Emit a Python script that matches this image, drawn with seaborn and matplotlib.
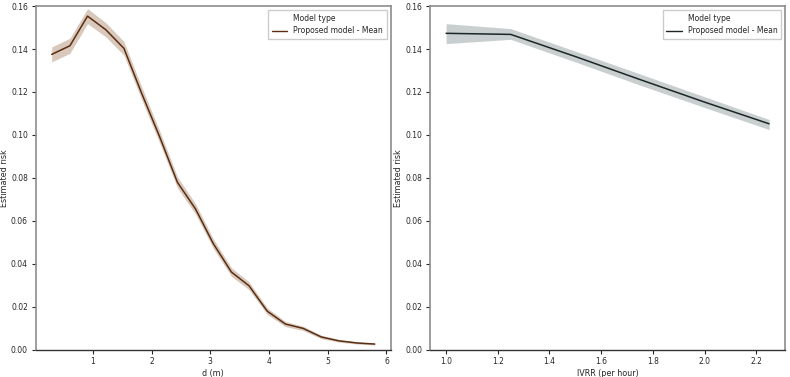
import matplotlib as mpl
mpl.use('Agg')
import matplotlib.pyplot as plt
from matplotlib.lines import Line2D
import seaborn as sns
import numpy as np
import pandas as pd

# left panel: distance d (m)
d_vals = [0.30, 0.61, 0.91, 1.22, 1.53, 1.83, 2.14, 2.44, 2.75, 3.05,
          3.36, 3.66, 3.97, 4.28, 4.58, 4.89, 5.19, 5.50, 5.80]
d_mean = [0.1375, 0.1415, 0.1553, 0.1490, 0.1403, 0.1195, 0.0990, 0.0780, 0.0655, 0.0495,
          0.0362, 0.0298, 0.0180, 0.0120, 0.0100, 0.0060, 0.0042, 0.0032, 0.0027]
d_err = [0.0035, 0.0035, 0.0035, 0.0033, 0.0032, 0.0030, 0.0028, 0.0026, 0.0024, 0.0022,
         0.0020, 0.0018, 0.0015, 0.0012, 0.0010, 0.0008, 0.0006, 0.0005, 0.0004]

# right panel: IVRR (per hour)
ivrr_vals = [1.00, 1.25, 1.50, 1.75, 2.00, 2.25]
ivrr_mean = [0.1473, 0.1468, 0.1365, 0.1258, 0.1153, 0.1052]
ivrr_lo = [0.1425, 0.1445, 0.1340, 0.1232, 0.1128, 0.1025]
ivrr_hi = [0.1518, 0.1495, 0.1390, 0.1284, 0.1178, 0.1072]

sns.set_theme(style='ticks')
plt.rcParams['font.family'] = ['DejaVu Sans']
fs = 5.5

fig, axes = plt.subplots(1, 2, figsize=(7.9, 3.77), dpi=100)
fig.subplots_adjust(left=0.045, right=0.994, bottom=0.072, top=0.984, wspace=0.11)

panels = [
    (axes[0], d_vals, d_mean, np.array(d_mean) - np.array(d_err), np.array(d_mean) + np.array(d_err),
     '#5a2d12', '#d9c9bc', 'd (m)', [1, 2, 3, 4, 5, 6]),
    (axes[1], ivrr_vals, ivrr_mean, ivrr_lo, ivrr_hi,
     '#1c2626', '#c9cfcf', 'IVRR (per hour)', [1.0, 1.2, 1.4, 1.6, 1.8, 2.0, 2.2]),
]

for ax, xs, mean, lo, hi, lc, bc, xlabel, xticks in panels:
    df = pd.DataFrame({'x': xs, 'y': mean})
    ax.fill_between(xs, lo, hi, color=bc, lw=0)
    sns.lineplot(data=df, x='x', y='y', ax=ax, color=lc, lw=1.1)
    ax.set_ylim(0, 0.16)
    ax.set_yticks(np.arange(0, 0.161, 0.02))
    ax.set_yticklabels(['%.2f' % t for t in np.arange(0, 0.161, 0.02)])
    ax.set_xticks(xticks)
    if isinstance(xticks[0], float):
        ax.set_xticklabels(['%.1f' % t for t in xticks])
    ax.tick_params(labelsize=fs, length=3, width=0.8, pad=2.5)
    ax.set_xlabel(xlabel, fontsize=fs + 0.3, labelpad=2)
    ax.set_ylabel('Estimated risk', fontsize=fs + 0.3, labelpad=1.5)
    for s in ['left', 'top', 'right']:
        ax.spines[s].set_color('#8c8c8c')
        ax.spines[s].set_linewidth(1.2)
    ax.spines['bottom'].set_color('#333333')
    ax.spines['bottom'].set_linewidth(1.0)
    handles = [Line2D([], [], color='none'), Line2D([], [], color=lc, lw=1.0)]
    ax.legend(handles, ['Model type', 'Proposed model - Mean'], loc='upper right',
              fontsize=fs, frameon=True, fancybox=False, borderpad=0.5, handlelength=2.0,
              framealpha=1, edgecolor='#cccccc')

fig.savefig('out.png', dpi=100)
